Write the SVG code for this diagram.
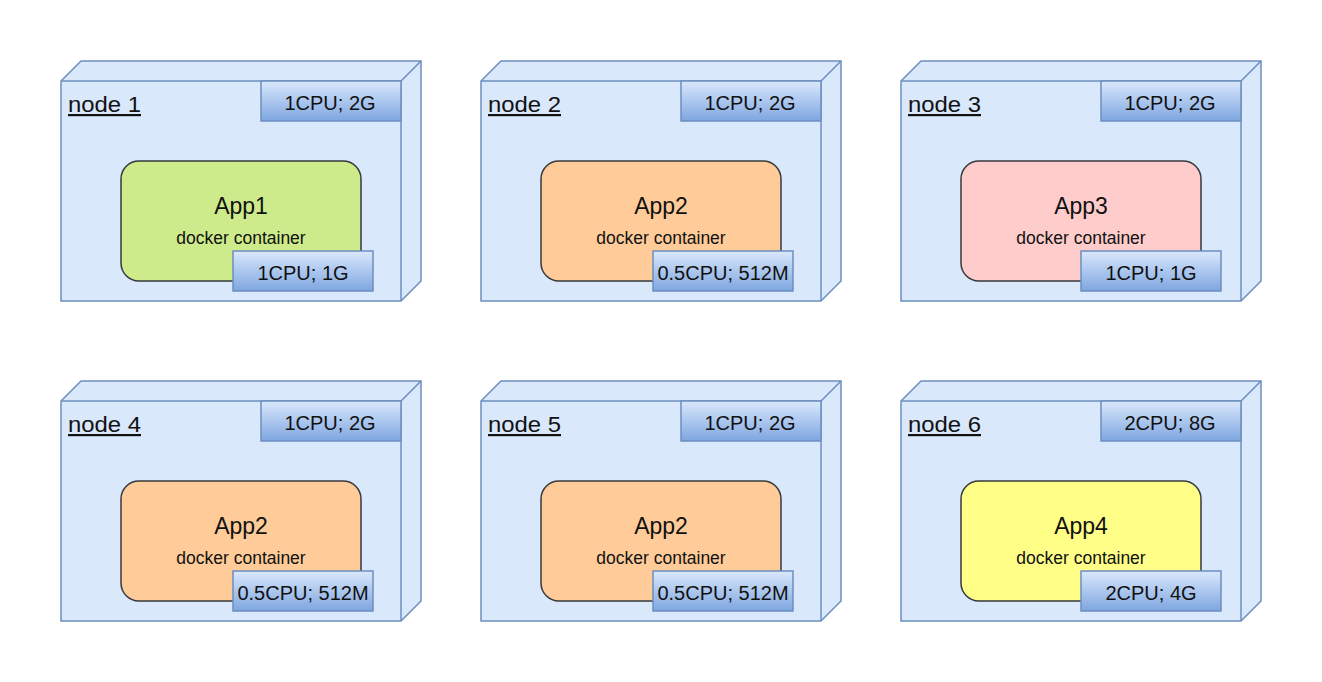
<svg xmlns="http://www.w3.org/2000/svg" width="1322" height="682" viewBox="0 0 1322 682">
<style>
.cube{fill:#dae8fc;stroke:#6c8ebf;stroke-width:1.5;stroke-linejoin:miter}
.edge{fill:none;stroke:#6c8ebf;stroke-width:1.5}
.res{fill:url(#resGrad);stroke:#6c8ebf;stroke-width:1.5}
.app{stroke:#36393d;stroke-width:1.5}
.t{font-family:"Liberation Sans",Arial,Helvetica,sans-serif;fill:#111}
.lbl{font-size:22px;text-decoration:underline}
.rt{font-size:20px;text-anchor:middle}
.an{font-size:23px;text-anchor:middle}
.dc{font-size:17.5px;text-anchor:middle}
</style>
<defs>
<linearGradient id="resGrad" x1="0" y1="0" x2="0" y2="1">
<stop offset="0" stop-color="#dae8fc"/>
<stop offset="1" stop-color="#7ea6e0"/>
</linearGradient>
</defs>
<rect width="1322" height="682" fill="#ffffff"/>
<g id="connectors"/>

<g id="node1" transform="translate(61,61)">
<path class="cube" d="M0,20 L20,0 L360,0 L360,220 L340,240 L0,240 Z"/>
<path class="edge" d="M0,20 L340,20 L360,0 M340,20 L340,240"/>
<text class="t lbl" x="7" y="51" textLength="73" lengthAdjust="spacingAndGlyphs">node 1</text>
<rect class="res" x="200" y="20" width="140" height="40"/>
<text class="t rt" x="269" y="48.5">1CPU; 2G</text>
<rect class="app" x="60" y="100" width="240" height="120" rx="18" fill="#cdeb8b"/>
<text class="t an" x="180" y="153">App1</text>
<text class="t dc" x="180" y="182.5">docker container</text>
<rect class="res" x="172" y="190" width="140" height="40"/>
<text class="t rt" x="242" y="218.5">1CPU; 1G</text>
</g>

<g id="node2" transform="translate(481,61)">
<path class="cube" d="M0,20 L20,0 L360,0 L360,220 L340,240 L0,240 Z"/>
<path class="edge" d="M0,20 L340,20 L360,0 M340,20 L340,240"/>
<text class="t lbl" x="7" y="51" textLength="73" lengthAdjust="spacingAndGlyphs">node 2</text>
<rect class="res" x="200" y="20" width="140" height="40"/>
<text class="t rt" x="269" y="48.5">1CPU; 2G</text>
<rect class="app" x="60" y="100" width="240" height="120" rx="18" fill="#ffcc99"/>
<text class="t an" x="180" y="153">App2</text>
<text class="t dc" x="180" y="182.5">docker container</text>
<rect class="res" x="172" y="190" width="140" height="40"/>
<text class="t rt" x="242" y="218.5">0.5CPU; 512M</text>
</g>

<g id="node3" transform="translate(901,61)">
<path class="cube" d="M0,20 L20,0 L360,0 L360,220 L340,240 L0,240 Z"/>
<path class="edge" d="M0,20 L340,20 L360,0 M340,20 L340,240"/>
<text class="t lbl" x="7" y="51" textLength="73" lengthAdjust="spacingAndGlyphs">node 3</text>
<rect class="res" x="200" y="20" width="140" height="40"/>
<text class="t rt" x="269" y="48.5">1CPU; 2G</text>
<rect class="app" x="60" y="100" width="240" height="120" rx="18" fill="#ffcccc"/>
<text class="t an" x="180" y="153">App3</text>
<text class="t dc" x="180" y="182.5">docker container</text>
<rect class="res" x="180" y="190" width="140" height="40"/>
<text class="t rt" x="250" y="218.5">1CPU; 1G</text>
</g>

<g id="node4" transform="translate(61,381)">
<path class="cube" d="M0,20 L20,0 L360,0 L360,220 L340,240 L0,240 Z"/>
<path class="edge" d="M0,20 L340,20 L360,0 M340,20 L340,240"/>
<text class="t lbl" x="7" y="51" textLength="73" lengthAdjust="spacingAndGlyphs">node 4</text>
<rect class="res" x="200" y="20" width="140" height="40"/>
<text class="t rt" x="269" y="48.5">1CPU; 2G</text>
<rect class="app" x="60" y="100" width="240" height="120" rx="18" fill="#ffcc99"/>
<text class="t an" x="180" y="153">App2</text>
<text class="t dc" x="180" y="182.5">docker container</text>
<rect class="res" x="172" y="190" width="140" height="40"/>
<text class="t rt" x="242" y="218.5">0.5CPU; 512M</text>
</g>

<g id="node5" transform="translate(481,381)">
<path class="cube" d="M0,20 L20,0 L360,0 L360,220 L340,240 L0,240 Z"/>
<path class="edge" d="M0,20 L340,20 L360,0 M340,20 L340,240"/>
<text class="t lbl" x="7" y="51" textLength="73" lengthAdjust="spacingAndGlyphs">node 5</text>
<rect class="res" x="200" y="20" width="140" height="40"/>
<text class="t rt" x="269" y="48.5">1CPU; 2G</text>
<rect class="app" x="60" y="100" width="240" height="120" rx="18" fill="#ffcc99"/>
<text class="t an" x="180" y="153">App2</text>
<text class="t dc" x="180" y="182.5">docker container</text>
<rect class="res" x="172" y="190" width="140" height="40"/>
<text class="t rt" x="242" y="218.5">0.5CPU; 512M</text>
</g>

<g id="node6" transform="translate(901,381)">
<path class="cube" d="M0,20 L20,0 L360,0 L360,220 L340,240 L0,240 Z"/>
<path class="edge" d="M0,20 L340,20 L360,0 M340,20 L340,240"/>
<text class="t lbl" x="7" y="51" textLength="73" lengthAdjust="spacingAndGlyphs">node 6</text>
<rect class="res" x="200" y="20" width="140" height="40"/>
<text class="t rt" x="269" y="48.5">2CPU; 8G</text>
<rect class="app" x="60" y="100" width="240" height="120" rx="18" fill="#ffff88"/>
<text class="t an" x="180" y="153">App4</text>
<text class="t dc" x="180" y="182.5">docker container</text>
<rect class="res" x="180" y="190" width="140" height="40"/>
<text class="t rt" x="250" y="218.5">2CPU; 4G</text>
</g>
</svg>
